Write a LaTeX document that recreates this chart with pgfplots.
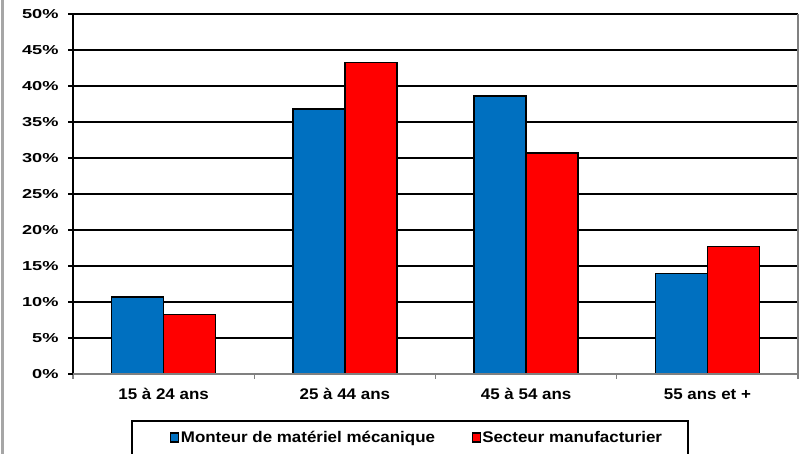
\documentclass[border=0pt]{standalone}
\usepackage{pgfplots}
\pgfplotsset{compat=1.18}
\usepackage{fontspec}
\setmainfont{Liberation Sans}
\newfontfamily\xfont[FakeStretch=1.1]{Liberation Sans}
\newfontfamily\yfont[FakeStretch=1.4]{Liberation Sans}
\definecolor{cblue}{HTML}{0070C0}
\definecolor{cred}{HTML}{FF0000}
\begin{document}
\begin{tikzpicture}
\path[use as bounding box] (0pt,0pt) rectangle (810pt,454pt);
\fill[gray!70] (0.5pt,0pt) rectangle (3.5pt,454pt);
\begin{axis}[
  at={(73pt,80pt)}, anchor=south west,
  scale only axis, width=725pt, height=360pt,
  ybar=0pt, bar width=52pt,
  xmin=-0.5, xmax=3.5, ymin=0, ymax=50,
  xtick={0,1,2,3},
  xticklabels={15 à 24 ans,25 à 44 ans,45 à 54 ans,55 ans et +},
  minor xtick={-0.5,0.5,1.5,2.5,3.5},
  major x tick style={draw=none},
  minor x tick style={gray, line width=1.2pt},
  minor tick length=5pt,
  xtick pos=bottom, ytick pos=left,
  ytick={0,5,...,50},
  yticklabels={0\%,5\%,10\%,15\%,20\%,25\%,30\%,35\%,40\%,45\%,50\%},
  y tick style={black, line width=1.2pt},
  major tick length=5pt,
  tick align=outside,
  ymajorgrids, major grid style={black, line width=1.3pt},
  axis line style={draw=none},
  xticklabel style={font=\xfont\bfseries\fontsize{15.4}{16}\selectfont, yshift=-6pt},
  yticklabel style={font=\yfont\bfseries\fontsize{13}{13}\selectfont, xshift=-6pt},
  clip=false,
  legend columns=2,
  legend style={draw=none, fill=none, inner sep=0pt,
    at={(rel axis cs:0.1338,-0.1764)}, anchor=west,
    font=\xfont\bfseries\fontsize{15.4}{16}\selectfont,
    nodes={inner xsep=1.5pt},
    /tikz/every even column/.append style={column sep=35pt}},
  legend image code/.code={\draw[#1, line width=1.2pt] (0pt,-4.5pt) rectangle (8pt,4.5pt);},
]
\addplot[fill=cblue, draw=black, line width=1.3pt] coordinates {(0,10.7) (1,36.8) (2,38.6) (3,14.0)};
\addplot[fill=cred, draw=black, line width=1.3pt] coordinates {(0,8.3) (1,43.3) (2,30.7) (3,17.7)};
\legend{Monteur de matériel mécanique,Secteur manufacturier}
\draw[black, line width=1.3pt] (rel axis cs:0,0) -- (rel axis cs:0,1);
\draw[gray, line width=1.3pt] (rel axis cs:0,0) -- (rel axis cs:1,0) -- (rel axis cs:1,1);
\end{axis}
\draw[black, line width=1.5pt] (132pt,-10pt) -- (132pt,33pt) -- (688pt,33pt) -- (688pt,-10pt);
\end{tikzpicture}
\end{document}
